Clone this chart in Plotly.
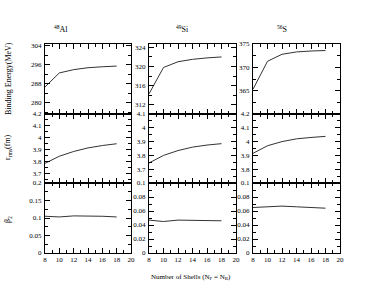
import plotly.graph_objects as go

shells = [8, 10, 12, 14, 16, 18]
nuclei = ["<sup>48</sup>Al", "<sup>49</sup>Si", "<sup>56</sup>S"]

be_al = [286.7, 292.6, 294.0, 294.8, 295.2, 295.5]
be_si = [314.3, 319.8, 321.0, 321.5, 321.8, 322.0]
be_s = [365.3, 371.3, 372.8, 373.3, 373.5, 373.6]

r_al = [3.785, 3.845, 3.885, 3.915, 3.935, 3.950]
r_si = [3.745, 3.800, 3.835, 3.860, 3.875, 3.885]
r_s = [3.915, 3.970, 4.000, 4.020, 4.030, 4.038]

b_al = [0.105, 0.103, 0.106, 0.106, 0.105, 0.103]
b_si = [0.047, 0.045, 0.047, 0.047, 0.046, 0.046]
b_s = [0.065, 0.066, 0.067, 0.066, 0.065, 0.064]

x_ticks = [8, 10, 12, 14, 16, 18, 20]

be_ticks = [[280, 288, 296, 304], [312, 316, 320, 324], [365, 370, 375]]
r_ticks = [[3.7, 3.8, 3.9, 4.0, 4.1, 4.2], [3.7, 3.8, 3.9, 4.0, 4.1], [3.8, 3.9, 4.0, 4.1, 4.2]]
b_ticks = [[0, 0.05, 0.1, 0.15, 0.2], [0, 0.02, 0.04, 0.06, 0.08, 0.1], [0, 0.02, 0.04, 0.06, 0.08, 0.1]]
r_labels = [["3.7", "3.8", "3.9", "4", "4.1", "4.2"], ["3.7", "3.8", "3.9", "4", "4.1"], ["3.8", "3.9", "4", "4.1", "4.2"]]
b_labels = [["0", "0.05", "0.1", "0.15", "0.2"], ["0", "0.02", "0.04", "0.06", "0.08", "0.1"], ["0", "0.02", "0.04", "0.06", "0.08", "0.1"]]

be_range = [[275.3, 304.8], [310.1, 324.7], [360, 375]]
r_range = [[3.62, 4.2], [3.6, 4.1], [3.7, 4.2]]
b_range = [[0, 0.2], [0, 0.1], [0, 0.1]]
be_minor = [4, 2, 2.5]
r_minor = [0.05, 0.05, 0.05]
b_minor = [0.025, 0.01, 0.01]

data = [[be_al, be_si, be_s], [r_al, r_si, r_s], [b_al, b_si, b_s]]

W, H = 385, 298
col_px = [(45, 131), (149, 236), (253, 340)]
row_px = [(44, 114), (114, 183), (183, 253)]

FONT = "Liberation Serif"
fig = go.Figure()
layout = {}
idx = 0
for r in range(3):
    for c in range(3):
        idx += 1
        xa = "x" if idx == 1 else f"x{idx}"
        ya = "y" if idx == 1 else f"y{idx}"
        fig.add_trace(go.Scatter(x=shells, y=data[r][c], mode="lines",
                                 line=dict(color="#333333", width=1),
                                 xaxis=xa, yaxis=ya, showlegend=False, hoverinfo="skip"))
        x0, x1 = col_px[c]
        y0, y1 = row_px[r]
        layout["xaxis" if idx == 1 else f"xaxis{idx}"] = dict(
            domain=[x0 / W, x1 / W], anchor=ya, range=[8, 20],
            tickvals=x_ticks, ticktext=[str(v) for v in x_ticks],
            showticklabels=(r == 2), ticks="inside", ticklen=5, tickwidth=1,
            tickcolor="black", showline=True, linecolor="black", linewidth=1,
            mirror="allticks", showgrid=False, zeroline=False,
            minor=dict(ticks="inside", dtick=1, ticklen=3, tickcolor="black", showgrid=False),
            tickfont=dict(family=FONT, size=7, color="black"),
        )
        if r == 0:
            tv, tt, rg, mn = be_ticks[c], [str(v) for v in be_ticks[c]], be_range[c], be_minor[c]
        elif r == 1:
            tv, tt, rg, mn = r_ticks[c], r_labels[c], r_range[c], r_minor[c]
        else:
            tv, tt, rg, mn = b_ticks[c], b_labels[c], b_range[c], b_minor[c]
        layout["yaxis" if idx == 1 else f"yaxis{idx}"] = dict(
            domain=[1 - y1 / H, 1 - y0 / H], anchor=xa, range=rg,
            tickvals=tv, ticktext=tt, ticks="inside", ticklen=5, tickwidth=1,
            tickcolor="black", showline=True, linecolor="black", linewidth=1,
            mirror="allticks", showgrid=False, zeroline=False,
            minor=dict(ticks="inside", dtick=mn, ticklen=3, tickcolor="black", showgrid=False),
            tickfont=dict(family=FONT, size=7, color="black"), ticklabelstandoff=1,
        )

annotations = []
title_x = [61, 182, 282]
for c in range(3):
    annotations.append(dict(text=nuclei[c], x=title_x[c] / W, y=1 - 29 / H, xref="paper", yref="paper",
                            xanchor="center", yanchor="middle",
                            showarrow=False, font=dict(family=FONT, size=8, color="black")))
ylabels = ["Binding Energy(MeV)", "r<sub>rms</sub>(fm)", "β<sub>2</sub>"]
ylab_y = [79, 147, 220]
for r in range(3):
    annotations.append(dict(text=ylabels[r], x=8 / W, y=1 - ylab_y[r] / H, xref="paper", yref="paper",
                            xanchor="center", yanchor="middle",
                            showarrow=False, textangle=-90, font=dict(family=FONT, size=8, color="black")))
annotations.append(dict(text="Number of Shells (N<sub>F</sub> = N<sub>B</sub>)", x=191 / W, y=1 - 277 / H,
                        xref="paper", yref="paper", showarrow=False, xanchor="center", yanchor="middle",
                        font=dict(family=FONT, size=7, color="black")))

fig.update_layout(template="none", width=W, height=H, margin=dict(l=0, r=0, t=0, b=0, pad=0),
                  paper_bgcolor="white", plot_bgcolor="white",
                  font=dict(family=FONT, color="black"),
                  annotations=annotations, **layout)
fig.write_html("out.html", config={"displayModeBar": False, "staticPlot": True},
               post_script="document.body.style.margin='0';document.body.style.padding='0';")
